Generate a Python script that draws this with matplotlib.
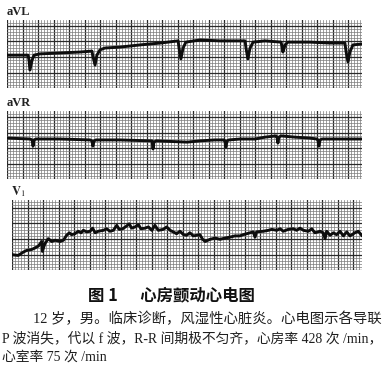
import numpy as np
import matplotlib
matplotlib.use('Agg')
import matplotlib.pyplot as plt
from matplotlib.ticker import MultipleLocator

W, H = 387, 367

# ---- data: paper position (mm, 25 mm/s) and amplitude (mm, 10 mm/mV) ----
avl_t = [0.3, 6.8, 7.1, 7.4, 8.1, 8.7, 10.6, 17.1, 23.5, 27.4, 27.7, 28.4, 29.0, 30.0,
         31.6, 36.5, 42.9, 49.4, 55.2, 55.5, 56.1, 56.8, 57.7, 62.3, 68.7, 76.8, 77.1,
         77.7, 78.4, 79.4, 83.2, 88.4, 88.7, 89.0, 89.7, 90.6, 97.7, 104.2, 109.0, 109.4,
         110.0, 110.6, 111.6, 114.5]
avl_v = [10.6, 10.6, 9.0, 5.8, 9.0, 10.6, 11.0, 11.3, 11.6, 11.9, 10.3, 7.4, 10.6, 12.3,
         12.9, 13.2, 13.9, 14.5, 15.2, 12.9, 9.4, 12.9, 14.8, 15.5, 15.2, 15.2, 12.9,
         9.4, 12.9, 14.8, 15.2, 14.8, 13.5, 11.6, 13.9, 14.8, 14.8, 14.5, 14.5, 11.6,
         8.4, 11.6, 13.9, 14.2]

avr_t = [0.3, 7.4, 8.1, 8.4, 8.7, 9.4, 17.1, 26.8, 27.4, 27.7, 28.1, 28.7, 36.5, 46.1,
         46.8, 47.1, 47.4, 48.1, 58.1, 62.3, 67.1, 70.0, 70.3, 70.6, 71.0, 71.6, 75.2,
         80.0, 83.2, 86.8, 87.1, 87.4, 87.7, 88.4, 92.9, 97.7, 100.0, 100.3, 100.6,
         101.0, 101.6, 107.4, 114.5]
avr_v = [13.2, 12.9, 12.6, 10.6, 12.6, 12.9, 12.9, 12.6, 12.3, 10.6, 12.3, 12.6, 12.6,
         12.3, 12.3, 9.7, 11.9, 12.3, 11.9, 12.3, 12.6, 12.6, 12.3, 10.3, 12.3, 12.6,
         12.9, 12.9, 13.5, 13.9, 13.5, 11.6, 13.5, 13.9, 13.5, 13.2, 12.9, 12.6, 10.6,
         12.6, 12.9, 12.9, 12.9]

v1_t = [0.4, 2.0, 3.7, 4.7, 6.3, 7.4, 8.5, 9.6, 9.8, 10.6, 11.7, 12.8, 13.9, 15.5, 16.6,
        17.6, 18.5, 19.2, 20.3, 21.4, 22.3, 23.0, 24.1, 25.2, 26.0, 26.8, 27.8, 29.5,
        30.5, 31.6, 32.7, 33.8, 34.6, 35.7, 37.0, 37.8, 38.6, 39.7, 40.8, 41.6, 42.9,
        44.0, 45.1, 46.1, 47.2, 48.8, 49.9, 51.0, 52.0, 53.1, 54.2, 55.3, 56.3, 57.4,
        58.5, 59.6, 60.6, 61.5, 62.3, 63.9, 65.5, 67.1, 68.7, 70.3, 71.9, 73.5, 74.6,
        75.7, 76.8, 77.8, 78.4, 78.9, 81.1, 82.7, 83.8, 85.4, 86.5, 87.5, 89.1, 90.8,
        91.8, 92.9, 94.0, 95.6, 96.7, 97.7, 99.4, 100.4, 101.0, 101.5, 102.6, 103.7,
        104.7, 105.8, 106.9, 108.0, 109.0, 110.6, 111.7, 112.8]
v1_v = [4.9, 4.7, 5.8, 6.3, 6.6, 7.1, 7.7, 9.2, 6.0, 8.5, 10.1, 9.2, 9.6, 9.2, 9.6,
        11.2, 12.0, 11.4, 11.7, 12.5, 12.0, 12.8, 12.3, 12.5, 13.5, 12.0, 12.5, 12.8,
        13.3, 12.5, 12.8, 14.4, 13.1, 13.3, 14.2, 14.9, 13.5, 13.9, 14.6, 13.3, 13.5,
        13.9, 12.8, 14.4, 12.8, 13.1, 13.9, 12.8, 12.3, 11.7, 12.5, 11.4, 11.2, 12.0,
        11.0, 11.2, 11.4, 9.9, 9.2, 9.9, 10.3, 9.9, 10.3, 10.6, 11.0, 11.0, 11.4,
        11.7, 12.0, 12.3, 10.6, 12.3, 12.5, 12.8, 13.1, 12.8, 13.3, 12.5, 13.1, 13.3,
        12.8, 13.5, 12.8, 12.5, 13.3, 12.0, 12.5, 12.0, 10.1, 12.5, 11.2, 12.0,
        11.4, 12.5, 11.0, 12.3, 11.0, 12.0, 12.5, 11.2]

lead_labels = ['aVL', 'aVR', r'$\mathbf{V}_1$']
fig_title = '图 1      心房颤动心电图'
caption_lines = ['12 岁，男。临床诊断，风湿性心脏炎。心电图示各导联',
                 'P 波消失，代以 f 波，R-R 间期极不匀齐，心房率 428 次 /min，',
                 '心室率 75 次 /min']

# ---- figure ----
plt.rcParams['mathtext.fontset'] = 'stix'
fig = plt.figure(figsize=(W / 100, H / 100), dpi=100)
fig.patch.set_facecolor('white')
renderer = fig.canvas.get_renderer()

PX_PER_MM = 3.1
panels = [(7, 20, 362, 88), (7, 111, 362, 179), (12, 200, 362, 270)]
traces = [(avl_t, avl_v), (avr_t, avr_v), (v1_t, v1_v)]
label_pos = [(7, 12), (7, 103), (11, 192)]

for (x0, y0, x1, y1), (t, v), lab, (lx, ly) in zip(panels, traces, lead_labels, label_pos):
    ax = fig.add_axes([x0 / W, 1 - y1 / H, (x1 - x0) / W, (y1 - y0) / H])
    ax.set_xlim(0, (x1 - x0) / PX_PER_MM)
    ax.set_ylim(0, (y1 - y0) / PX_PER_MM)
    ax.xaxis.set_major_locator(MultipleLocator(5))
    ax.xaxis.set_minor_locator(MultipleLocator(1))
    ax.yaxis.set_major_locator(MultipleLocator(5))
    ax.yaxis.set_minor_locator(MultipleLocator(1))
    ax.grid(which='minor', color='#7a7a7a', lw=0.5)
    ax.grid(which='major', color='#2a2a2a', lw=0.9)
    ax.tick_params(which='both', length=0, labelbottom=False, labelleft=False)
    for s in ax.spines.values():
        s.set_visible(False)
    ax.set_axisbelow(True)
    ax.plot(t, v, color='#0d0d0d', lw=2.1, solid_joinstyle='round', zorder=3)
    fig.text(lx / W, 1 - ly / H, lab, fontsize=9, fontweight='bold',
             family='Liberation Serif', va='center', ha='left', color='#222222')


def fitted_text(x0, x1, y, s, size, **kw):
    """Place text from x0 and scale font so it spans to x1 (pixels)."""
    t = fig.text(x0 / W, 1 - y / H, s, fontsize=size, ha='left', va='center', **kw)
    w = t.get_window_extent(renderer).width
    new = size * (x1 - x0) / w
    t.set_fontsize(new)
    return new


fitted_text(88, 255, 295, fig_title, 11, fontweight='bold',
            family=['Noto Sans CJK SC', 'DejaVu Sans'], color='#111111')

cap_family = ['Liberation Serif', 'Noto Sans CJK SC']
fitted_text(33, 383, 319, caption_lines[0], 9.8, family=cap_family, color='#1e1e1e')
s2 = fitted_text(2, 384, 338, caption_lines[1], 9.8, family=cap_family, color='#1e1e1e')
fig.text(2 / W, 1 - 357 / H, caption_lines[2], fontsize=s2, family=cap_family,
         ha='left', va='center', color='#1e1e1e')

fig.savefig('out.png', dpi=100, facecolor='white')
